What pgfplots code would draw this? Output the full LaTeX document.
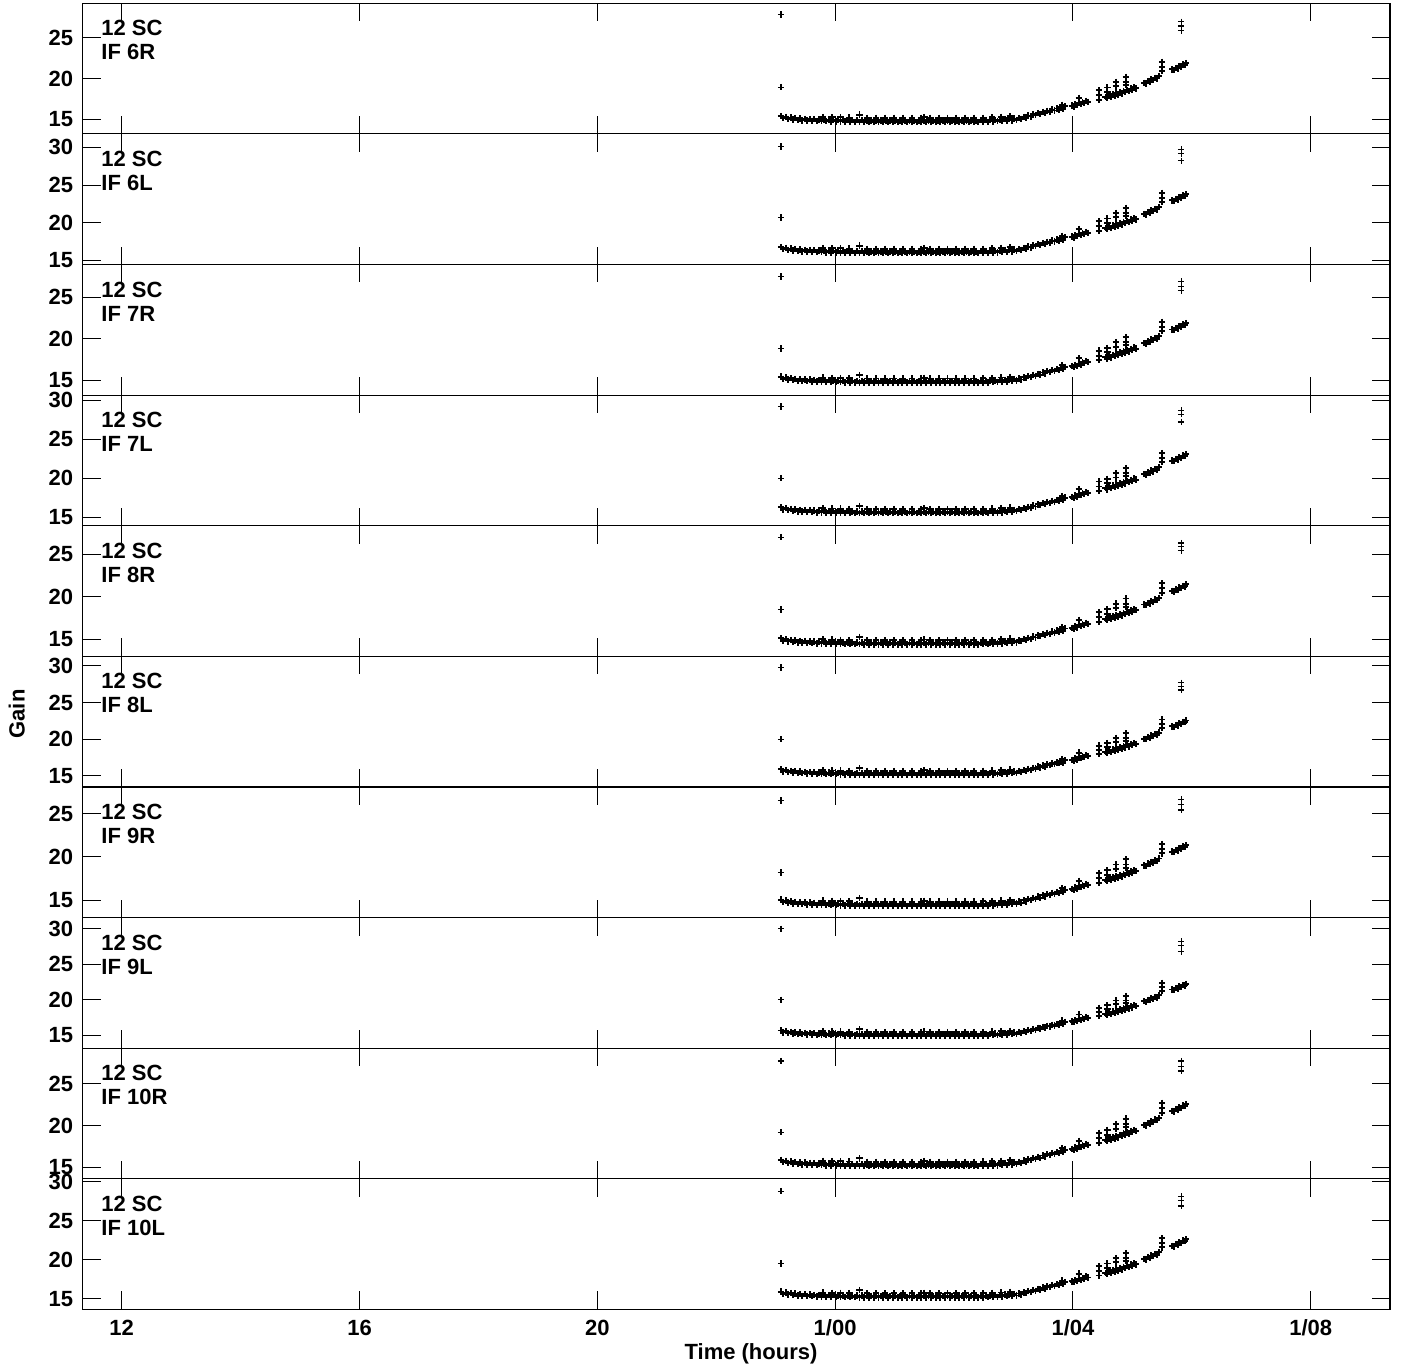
\documentclass[border=0pt]{standalone}
\usepackage{fontspec}
\setmainfont{Liberation Sans}
\usepackage{pgfplots}
\pgfplotsset{compat=1.18}
\usepackage{pgfplotstable}
\usepgfplotslibrary{groupplots}

% normalised gain profile (value / panel minimum)
\pgfplotstableread{
t f
23.09 1.042
23.13 1.024
23.17 1.035
23.21 1.018
23.25 1.029
23.29 1.013
23.33 1.025
23.37 1.009
23.41 1.022
23.45 1.007
23.49 1.020
23.53 1.005
23.57 1.018
23.61 1.003
23.65 1.016
23.69 1.001
23.73 1.015
23.77 1.000
23.81 1.014
23.85 0.999
23.89 1.013
23.93 0.998
23.97 1.012
24.01 0.998
24.05 1.011
24.09 0.997
24.13 1.010
24.17 0.996
24.21 1.010
24.25 0.995
24.29 1.009
24.33 0.995
24.37 1.008
24.41 0.994
24.45 1.008
24.49 0.993
24.53 1.007
24.57 0.993
24.61 1.007
24.65 0.993
24.69 1.007
24.73 0.993
24.77 1.007
24.81 0.993
24.85 1.007
24.89 0.993
24.93 1.007
24.97 0.993
25.01 1.007
25.05 0.993
25.09 1.007
25.13 0.993
25.17 1.007
25.21 0.993
25.25 1.007
25.29 0.993
25.33 1.007
25.37 0.993
25.41 1.007
25.45 0.993
25.49 1.007
25.53 0.993
25.57 1.007
25.61 0.993
25.65 1.007
25.69 0.993
25.73 1.007
25.77 0.993
25.81 1.007
25.85 0.993
25.89 1.007
25.93 0.993
25.97 1.007
26.01 0.993
26.05 1.007
26.09 0.993
26.13 1.007
26.17 0.993
26.21 1.007
26.25 0.993
26.29 1.007
26.33 0.993
26.37 1.007
26.41 0.993
26.45 1.008
26.49 0.994
26.53 1.009
26.57 0.995
26.61 1.010
26.65 0.997
26.69 1.012
26.73 0.999
26.77 1.014
26.81 1.001
26.85 1.017
26.89 1.004
26.93 1.019
26.97 1.007
27.01 1.022
27.05 1.010
23.79 1.034
23.94 1.032
24.09 1.031
24.24 1.029
24.41 1.054
24.54 1.027
24.69 1.027
24.84 1.027
24.99 1.027
25.14 1.027
25.29 1.027
25.44 1.027
25.50 1.033
25.59 1.027
25.74 1.027
25.89 1.027
26.04 1.027
26.19 1.027
26.34 1.027
26.49 1.028
26.64 1.031
26.79 1.035
26.94 1.040
27.09 1.026
27.13 1.019
27.17 1.036
27.21 1.029
27.25 1.046
27.29 1.039
27.33 1.056
27.37 1.049
27.41 1.066
27.45 1.059
27.49 1.076
27.53 1.069
27.57 1.086
27.61 1.079
27.65 1.096
27.69 1.088
27.73 1.104
27.77 1.097
27.80 1.113
27.83 1.105
27.86 1.122
27.82 1.134
27.98 1.128
28.01 1.121
28.04 1.138
28.07 1.131
28.10 1.148
28.13 1.141
28.16 1.158
28.19 1.151
28.22 1.168
28.25 1.160
28.10 1.192
28.44 1.177
28.44 1.213
28.44 1.254
28.55 1.200
28.58 1.189
28.61 1.210
28.64 1.199
28.67 1.220
28.70 1.208
28.73 1.229
28.76 1.218
28.79 1.239
28.82 1.228
28.85 1.249
28.88 1.238
28.91 1.259
28.94 1.248
28.97 1.269
29.00 1.258
29.03 1.278
29.06 1.270
28.58 1.277
28.58 1.240
28.72 1.323
28.72 1.287
28.89 1.365
28.89 1.323
28.89 1.296
29.20 1.316
29.23 1.311
29.26 1.330
29.29 1.325
29.32 1.344
29.35 1.338
29.38 1.357
29.41 1.352
29.44 1.371
29.50 1.412
29.50 1.447
29.50 1.488
29.67 1.426
29.70 1.421
29.73 1.440
29.76 1.435
29.79 1.454
29.82 1.449
29.85 1.468
29.88 1.463
29.90 1.479
}\prof

\pgfplotsset{
  pts/.style={only marks, mark=+, mark size=1.6pt, mark options={line width=0.95pt, black}},
  iso/.style={only marks, mark=+, mark size=1.6pt, mark options={line width=0.6pt, black}},
}
\tikzset{
  lab/.style={anchor=north west, inner sep=0pt, align=left,
    font=\fontsize{11}{12}\selectfont\bfseries, xshift=9.15pt, yshift=-8.4pt},
}

\begin{document}
\begin{tikzpicture}
\begin{groupplot}[
  group style={group size=1 by 10, vertical sep=0pt, group name=G,
    xticklabels at=edge bottom},
  scale only axis, width=653.65pt, height=65.3pt,
  xmin=11.344, xmax=33.333,
  xtick={12,16,20,24,28,32},
  xticklabels={12,16,20,1/00,1/04,1/08},
  ytick={15,20,25,30},
  tick align=inside, tick pos=both, major tick length=9pt,
  tick style={black, line width=0.5pt},
  axis line style={black, line width=0.6pt},
  /pgf/number format/assume math mode=true,
  tick label style={font=\fontsize{11}{13}\selectfont\bfseries},
  xticklabel style={yshift=-1.8pt},
  yticklabel style={xshift=-1.3pt},
]
\nextgroupplot[ymin=13.25, ymax=29.16]
\coordinate (TL) at (rel axis cs:0,1);
\addplot[pts] table[x=t, y expr=\thisrow{f}*14.8] {\prof};
\addplot[iso] coordinates {(23.09,27.8) (23.09,18.95) (29.82,26.9) (29.82,26.4) (29.82,25.8)};
\node[lab] at (rel axis cs:0,1) {12 SC\\IF 6R};

\nextgroupplot[ymin=14.47, ymax=31.77]
\addplot[pts] table[x=t, y expr=\thisrow{f}*16.1] {\prof};
\addplot[iso] coordinates {(23.09,30.1) (23.09,20.7) (29.82,29.7) (29.82,29.2) (29.82,28.2)};
\node[lab] at (rel axis cs:0,1) {12 SC\\IF 6L};

\nextgroupplot[ymin=13.2, ymax=28.93]
\addplot[pts] table[x=t, y expr=\thisrow{f}*14.8] {\prof};
\addplot[iso] coordinates {(23.09,27.5) (23.09,18.8) (29.82,26.9) (29.82,26.3) (29.82,25.8)};
\node[lab] at (rel axis cs:0,1) {12 SC\\IF 7R};

\nextgroupplot[ymin=13.9, ymax=30.64]
\addplot[pts] table[x=t, y expr=\thisrow{f}*15.6] {\prof};
\addplot[iso] coordinates {(23.09,29.2) (23.09,20.0) (29.82,28.7) (29.82,28.2) (29.82,27.2)};
\node[lab] at (rel axis cs:0,1) {12 SC\\IF 7L};

\nextgroupplot[ymin=13.0, ymax=28.34]
\addplot[pts] table[x=t, y expr=\thisrow{f}*14.5] {\prof};
\addplot[iso] coordinates {(23.09,27.0) (23.09,18.5) (29.82,26.3) (29.82,25.9) (29.82,25.4)};
\node[lab] at (rel axis cs:0,1) {12 SC\\IF 8R};

\nextgroupplot[ymin=13.5, ymax=31.3]
\addplot[pts] table[x=t, y expr=\thisrow{f}*15.25] {\prof};
\addplot[iso] coordinates {(23.09,29.8) (23.09,20.0) (29.82,27.7) (29.82,27.2) (29.82,26.7)};
\node[lab] at (rel axis cs:0,1) {12 SC\\IF 8L};

\nextgroupplot[ymin=13.0, ymax=28.07]
\addplot[pts] table[x=t, y expr=\thisrow{f}*14.45] {\prof};
\addplot[iso] coordinates {(23.09,26.5) (23.09,18.2) (29.82,26.6) (29.82,26.0) (29.82,25.4)};
\node[lab] at (rel axis cs:0,1) {12 SC\\IF 9R};

\nextgroupplot[ymin=13.2, ymax=31.6]
\addplot[pts] table[x=t, y expr=\thisrow{f}*15.05] {\prof};
\addplot[iso] coordinates {(23.09,30.0) (23.09,20.0) (29.82,28.2) (29.82,27.6) (29.82,26.8)};
\node[lab] at (rel axis cs:0,1) {12 SC\\IF 9L};

\nextgroupplot[ymin=13.64, ymax=29.24]
\addplot[pts] table[x=t, y expr=\thisrow{f}*15.25] {\prof};
\addplot[iso] coordinates {(23.09,27.7) (23.09,19.2) (29.82,27.7) (29.82,27.0) (29.82,26.5)};
\node[lab] at (rel axis cs:0,1) {12 SC\\IF 10R};

\nextgroupplot[ymin=13.68, ymax=30.39]
\addplot[pts] table[x=t, y expr=\thisrow{f}*15.3] {\prof};
\addplot[iso] coordinates {(23.09,28.8) (23.09,19.55) (29.82,28.1) (29.82,27.6) (29.82,26.9)};
\node[lab] at (rel axis cs:0,1) {12 SC\\IF 10L};
\coordinate (BR) at (rel axis cs:1,0);
\end{groupplot}
\node[rotate=90, anchor=center, font=\fontsize{11}{13}\selectfont\bfseries]
  at ([shift={(-33pt,-355.3pt)}]TL) {Gain};
\node[anchor=base, font=\fontsize{11}{13}\selectfont\bfseries]
  at ([shift={(-319.5pt,-25pt)}]BR) {Time (hours)};
\pgfresetboundingbox
\useasboundingbox ([shift={(-41.35pt,1.65pt)}]TL) rectangle ([shift={(5.5pt,-29.5pt)}]BR);
\end{tikzpicture}
\end{document}
